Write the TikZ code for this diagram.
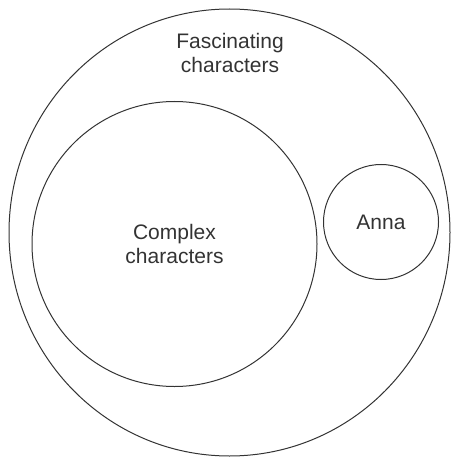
\documentclass[tikz,border=0pt]{standalone}
\usepackage{fontspec}
\setmainfont{Liberation Sans}
\usepackage{tikz}
\usetikzlibrary{shapes.geometric, positioning}
\definecolor{ink}{rgb}{0.2,0.2,0.2}

\tikzset{
  ring/.style={circle, draw=ink, line width=1pt, inner sep=0pt},
  label text/.style={text=ink, align=center, font=\fontsize{21}{24}\selectfont}
}

\begin{document}
\begin{tikzpicture}[x=1pt, y=-1pt]
\useasboundingbox (0,0) rectangle (452,457);

% outer set
\draw[draw=ink, line width=1pt] (229.5,232.5) ellipse [x radius=220.5, y radius=223.5];
\node[label text] (fascinating) at (230,52.5) {Fascinating\\characters};

% inner sets
\node[ring, minimum size=285pt, label text] (complex) at (174.5,244) {Complex\\characters};
\node[ring, minimum size=115pt, label text] (anna) at (381,222) {Anna};

\end{tikzpicture}
\end{document}
